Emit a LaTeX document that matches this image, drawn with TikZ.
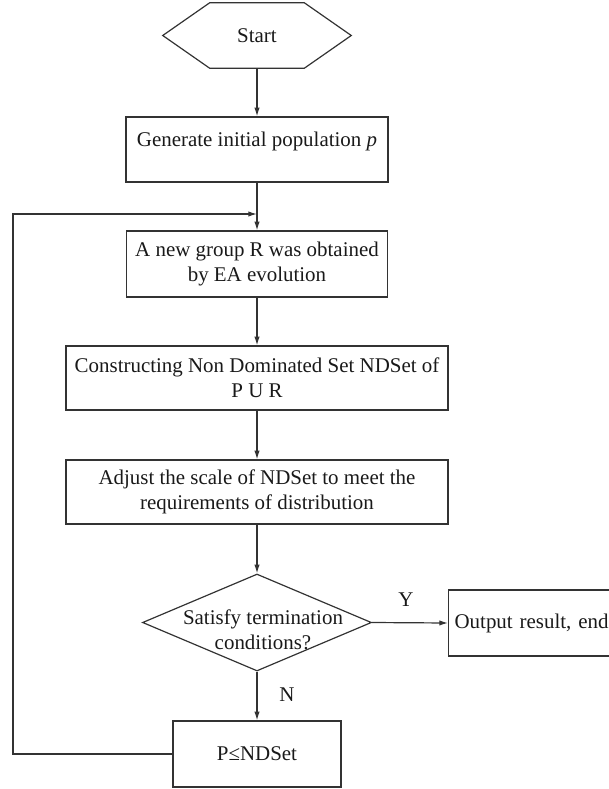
\documentclass[tikz,border=0pt]{standalone}
\usepackage{fontspec}
\setmainfont{Liberation Serif}
\usetikzlibrary{arrows.meta,shapes.geometric}

\begin{document}
\begin{tikzpicture}[x=0.75pt,y=-0.75pt,
  every node/.style={font=\fontsize{15.7}{18.75}\selectfont, text=black!90},
  process/.style={draw=black!80, line width=0.9pt, rectangle, align=center, inner sep=2pt},
  decision/.style={draw=black!80, line width=0.9pt, diamond, inner sep=0pt,
    minimum width=171.75pt, minimum height=72.75pt},
  flow/.style={draw=black!80, line width=0.9pt, -{Latex[length=6.5pt,width=4pt]}}]

\clip (0,0) rectangle (609,789);

\path (13,214) coordinate (loopTop);
\path (257,214) coordinate (merge);

\node[minimum width=141pt, minimum height=48.75pt, inner sep=0pt] (start) at (257,35.5) {Start};
\draw[draw=black!80, line width=0.9pt] (start.west) -- ([xshift=35.25pt]start.north west)
  -- ([xshift=-35.25pt]start.north east) -- (start.east)
  -- ([xshift=-35.25pt]start.south east) -- ([xshift=35.25pt]start.south west) -- cycle;

\node[process, minimum width=196.5pt, minimum height=48.75pt, text depth=15pt] (init) at (257,149.5) {Generate initial population \textit{p}};
\node[process, minimum width=195.75pt, minimum height=49.5pt] (group) at (257,264) {A new group R was obtained\\by EA evolution};
\node[process, minimum width=286.5pt, minimum height=48pt] (nds) at (257,378) {Constructing Non Dominated Set NDSet of\\P U R};
\node[process, minimum width=286.5pt, minimum height=48pt] (adjust) at (257,492) {Adjust the scale of NDSet to meet the\\requirements of distribution};
\node[decision] (check) at (257,622.5) {};
\node[align=center] (checktext) at (263,630) {Satisfy termination\\conditions?};
\node[process, anchor=west, inner xsep=4.5pt, text width=150pt, align=left, minimum height=49.5pt] (out) at (448,623) {Output result, end};
\node[process, minimum width=126pt, minimum height=49.5pt] (pset) at (257,754) {P≤NDSet};

\node (yes) at (406,600) {Y};
\node (no) at (287,695) {N};

\draw[flow] (start.south) -- (init.north);
\draw[flow] (init.south) -- (group.north);
\draw[flow] (group.south) -- (nds.north);
\draw[flow] (nds.south) -- (adjust.north);
\draw[flow] (adjust.south) -- (check.north);
\draw[flow] (check.east) -- (out.west);
\draw[flow] (check.south) -- (pset.north);
\draw[flow] (pset.west) -| (loopTop) -- (merge);
\end{tikzpicture}
\end{document}
